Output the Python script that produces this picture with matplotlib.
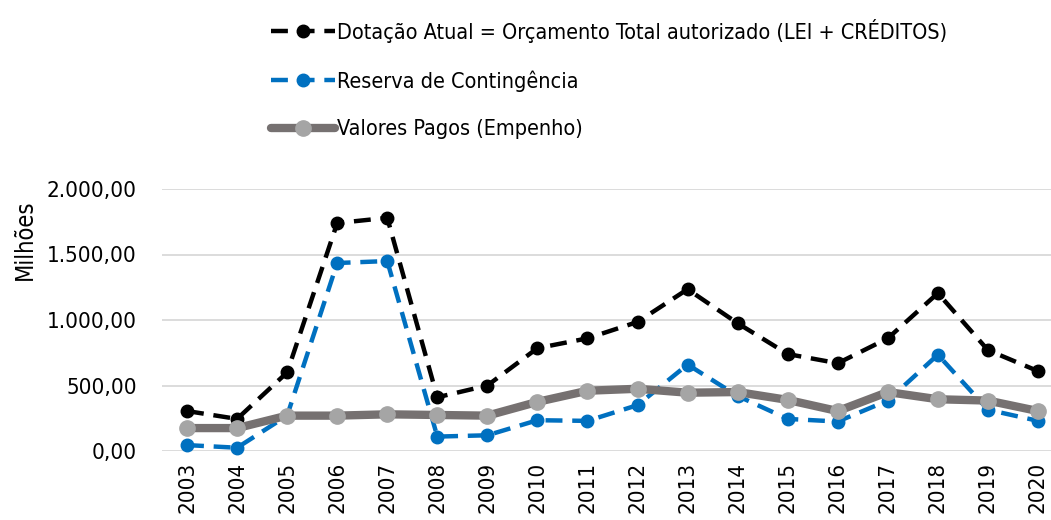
import matplotlib
matplotlib.use('Agg')
import matplotlib.pyplot as plt
from matplotlib.ticker import FuncFormatter

plt.rcParams['font.family'] = ['DejaVu Sans']
plt.rcParams['font.stretch'] = 'condensed'

years = [str(y) for y in range(2003, 2021)]
dotacao = [305, 245, 600, 1740, 1780, 410, 500, 785, 860, 985,
           1235, 975, 740, 670, 860, 1205, 770, 610]
reserva = [45, 25, 270, 1435, 1450, 110, 120, 235, 230, 350,
           660, 420, 245, 225, 385, 735, 315, 230]
pagos = [175, 175, 270, 270, 280, 275, 270, 375, 460, 475,
         445, 450, 390, 305, 450, 395, 385, 305]

labels = ['Dotação Atual = Orçamento Total autorizado (LEI + CRÉDITOS)',
          'Reserva de Contingência',
          'Valores Pagos (Empenho)']

BLACK = '#000000'
BLUE = '#0070C0'
GREY = '#767171'
LIGHT = '#A5A5A5'
GRID = '#D9D9D9'

W, H = 1051, 520
fig = plt.figure(figsize=(W / 100, H / 100), dpi=100)
ax = fig.add_axes([162 / W, 1 - 451 / H, 1 - 162 / W, (451 - 189) / H])

x = list(range(len(years)))
l1, = ax.plot(x, dotacao, color=BLACK, lw=3.2, dashes=(3.8, 2.2),
              marker='o', ms=9, zorder=3)
l2, = ax.plot(x, reserva, color=BLUE, lw=3.2, dashes=(3.8, 2.2),
              marker='o', ms=9, zorder=4)
l3, = ax.plot(x, pagos, color=GREY, lw=6, solid_capstyle='round',
              marker='o', ms=11, mfc=LIGHT, mec=LIGHT, zorder=5)

ax.set_xlim(-0.5, 17.26)
ax.set_ylim(0, 2000)
ax.set_yticks([0, 500, 1000, 1500, 2000])
ax.yaxis.set_major_formatter(FuncFormatter(
    lambda v, p: f'{v:,.2f}'.replace(',', 'X').replace('.', ',').replace('X', '.')))
ax.set_xticks(x)
ax.set_xticklabels(years, rotation=90)
ax.tick_params(axis='both', length=0, labelsize=16, colors='#000000')
ax.tick_params(axis='x', pad=8)
ax.tick_params(axis='y', pad=18)
ax.grid(axis='y', color=GRID, lw=1.3, zorder=0)
ax.set_axisbelow(True)
for s in ax.spines.values():
    s.set_visible(False)
for ln in (l1, l2, l3):
    ln.set_clip_on(False)

fig.text(25 / W, 1 - 240 / H, 'Milhões', rotation=90, ha='center',
         va='center', fontsize=17)

fig.legend([l1, l2, l3], labels, loc='upper left',
           bbox_to_anchor=(262 / W, 1 - 10 / H), frameon=False,
           fontsize=15.5, handlelength=3.0, handletextpad=0.1,
           labelspacing=1.28, borderaxespad=0)

fig.savefig('out.png', dpi=100, facecolor='white')
